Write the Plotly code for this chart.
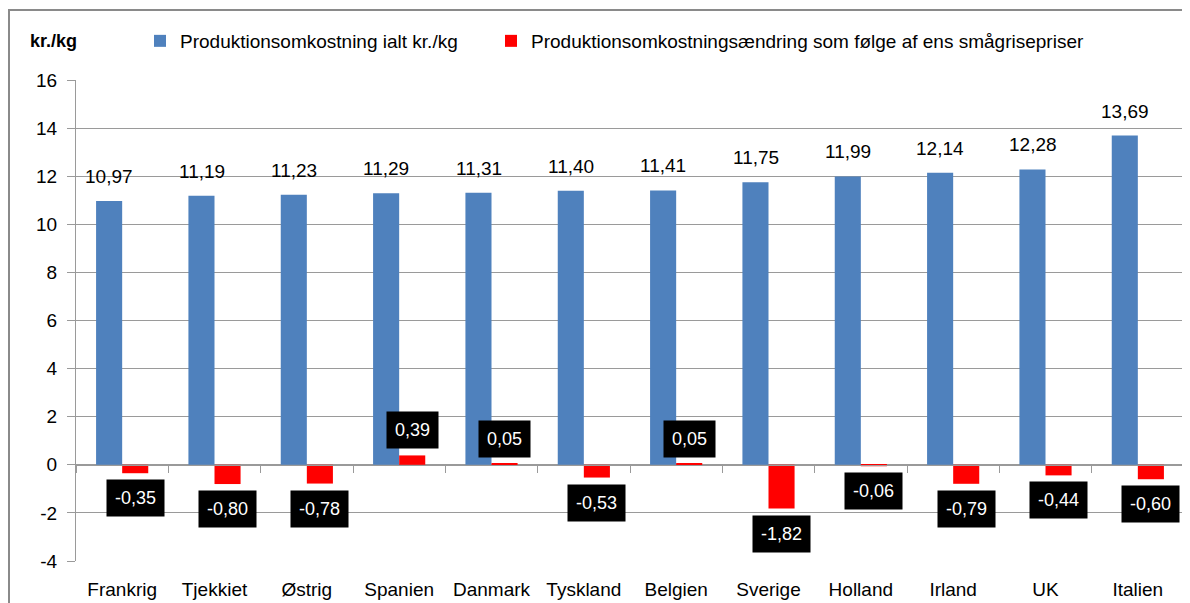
import plotly.graph_objects as go

countries = ["Frankrig", "Tjekkiet", "Østrig", "Spanien", "Danmark", "Tyskland",
             "Belgien", "Sverige", "Holland", "Irland", "UK", "Italien"]
total_cost = [10.97, 11.19, 11.23, 11.29, 11.31, 11.40, 11.41, 11.75, 11.99, 12.14, 12.28, 13.69]
cost_change = [-0.35, -0.80, -0.78, 0.39, 0.05, -0.53, 0.05, -1.82, -0.06, -0.79, -0.44, -0.60]
y_ticks = [-4, -2, 0, 2, 4, 6, 8, 10, 12, 14, 16]
name_total = "Produktionsomkostning ialt kr./kg"
name_change = "Produktionsomkostningsændring som følge af ens smågrisepriser"
y_title = "kr./kg"

# page body has an 8px margin; work in screen coordinates and convert
OFF = 8
W, H = 1190 - OFF, 603 - OFF
PLOT_L, PLOT_R, PLOT_T, PLOT_B = 76, 1184, 80, 561  # screen px
ML, MR, MT, MB = PLOT_L - OFF, (W + OFF) - PLOT_R, PLOT_T - OFF, (H + OFF) - PLOT_B
PW, PH = PLOT_R - PLOT_L, PLOT_B - PLOT_T

def fmt(v):
    return f"{v:.2f}".replace(".", ",")

def px_x(p):
    return (p - PLOT_L) / PW

def px_y(p):
    return (PLOT_B - p) / PH

FONT = "Liberation Sans, Arial, sans-serif"
BLUE = "#4F81BD"
RED = "#FF0000"
GRID = "#9a9a9a"
XRANGE = [-0.5, len(countries) - 0.5]

fig = go.Figure()
fig.add_trace(go.Bar(x=countries, y=total_cost, name=name_total,
                     marker=dict(color=BLUE, line=dict(width=0)), legend="legend"))
fig.add_trace(go.Bar(x=countries, y=cost_change, name=name_change,
                     marker=dict(color=RED, line=dict(width=0)), legend="legend2"))

annotations = []
for c, v in zip(countries, total_cost):
    annotations.append(dict(x=c, y=v, xref="x", yref="y", text=fmt(v), showarrow=False,
                            xshift=-13, yanchor="bottom", yshift=12,
                            font=dict(family=FONT, size=19, color="black")))
for c, v in zip(countries, cost_change):
    annotations.append(dict(x=c, y=v, xref="x", yref="y", text=fmt(v), showarrow=False,
                            xshift=13, yanchor="bottom" if v > 0 else "top",
                            yshift=6 if v > 0 else -6,
                            bgcolor="black", borderpad=8,
                            font=dict(family=FONT, size=18, color="white")))
annotations.append(dict(x=px_x(28), y=px_y(41), xref="paper", yref="paper", text=f"<b>{y_title}</b>",
                        showarrow=False, xanchor="left", yanchor="middle",
                        font=dict(family=FONT, size=18, color="black")))

fig.update_layout(
    width=W, height=H,
    margin=dict(l=ML, r=MR, t=MT, b=MB, autoexpand=False),
    paper_bgcolor="white", plot_bgcolor="white",
    barmode="group", bargap=0.435, bargroupgap=0,
    font=dict(family=FONT, size=18, color="black"),
    annotations=annotations,
    legend=dict(x=px_x(140), y=px_y(41), xanchor="left", yanchor="middle",
                orientation="h", font=dict(family=FONT, size=19), itemwidth=30,
                bgcolor="rgba(0,0,0,0)"),
    legend2=dict(x=px_x(491), y=px_y(41), xanchor="left", yanchor="middle",
                 orientation="h", font=dict(family=FONT, size=19), itemwidth=30,
                 bgcolor="rgba(0,0,0,0)"),
    xaxis=dict(type="category", range=XRANGE, autorange=False,
               showgrid=False, showline=False, zeroline=False,
               ticks="", tickfont=dict(family=FONT, size=19), ticklabelstandoff=15),
    xaxis2=dict(type="category", range=XRANGE, autorange=False, overlaying="x", anchor="free",
                position=px_y(PLOT_B - 4 * PH / 20), showticklabels=False,
                ticks="outside", ticklen=7, tickcolor=GRID, tickson="boundaries",
                showline=True, linecolor=GRID, linewidth=1, showgrid=False),
    yaxis=dict(range=[-4, 16], tickvals=y_ticks, ticktext=[str(t) for t in y_ticks],
               showgrid=True, gridcolor=GRID, gridwidth=1, zeroline=False,
               showline=True, linecolor=GRID, linewidth=1,
               ticks="outside", ticklen=8, tickcolor=GRID,
               tickfont=dict(family=FONT, size=19), ticklabelstandoff=6),
    shapes=[
        dict(type="line", xref="paper", yref="paper", x0=px_x(8), x1=px_x(1200),
             y0=px_y(10), y1=px_y(10), line=dict(color="#8a8a8a", width=2)),
        dict(type="line", xref="paper", yref="paper", x0=px_x(9), x1=px_x(9),
             y0=px_y(10), y1=px_y(620), line=dict(color="#8a8a8a", width=2)),
    ],
)
fig.add_trace(go.Scatter(x=countries, y=[0] * len(countries), xaxis="x2", yaxis="y",
                         mode="markers", marker=dict(opacity=0), showlegend=False,
                         hoverinfo="skip"))

fig.write_html("out.html")
